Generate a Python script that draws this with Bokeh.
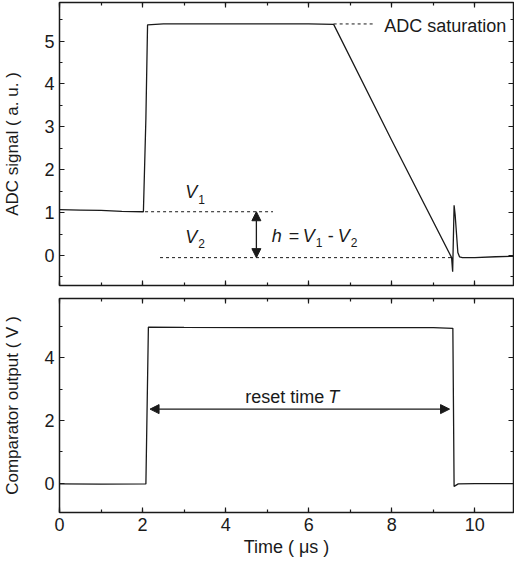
from bokeh.plotting import figure
from bokeh.layouts import column
from bokeh.models import LinearAxis, SingleIntervalTicker, Range1d, Arrow, NormalHead
from bokeh.core.properties import value
from bokeh.embed import file_html
from bokeh.resources import INLINE

# ---- data ----
adc_time = [0.0, 0.5, 1.0, 1.5, 2.02, 2.08, 2.12, 2.5, 4.0, 6.0, 6.6, 8.0, 9.44,
            9.465, 9.50, 9.525, 9.59, 9.63, 9.7, 10.0, 10.5, 10.93]
adc_signal = [1.07, 1.06, 1.05, 1.03, 1.02, 3.2, 5.38, 5.40, 5.40, 5.40, 5.39, 2.68, -0.05,
              -0.38, 1.17, 0.95, 0.07, -0.03, -0.05, -0.05, -0.03, -0.02]

comp_time = [0.0, 1.0, 2.08, 2.14, 3.0, 6.0, 9.0, 9.47, 9.50, 9.6, 10.0, 10.93]
comp_output = [-0.02, -0.03, -0.02, 4.97, 4.96, 4.95, 4.95, 4.93, -0.10, -0.02, -0.01, -0.01]

adc_saturation = 5.40
v1_level = 1.02
v2_level = -0.05
reset_start = 2.14
reset_end = 9.47

FONT = value("Liberation Sans")
INK = "#1a1a1a"
X_END = 10.93


def add_axes(p, xtick, ytick, xlabel=None, ylabel=None, show_x=True):
    def ax(ticker, labels, title=None):
        a = LinearAxis(ticker=ticker)
        a.axis_line_color = None
        a.major_tick_in = 5
        a.major_tick_out = 0
        a.minor_tick_in = 3
        a.minor_tick_out = 0
        a.major_tick_line_color = INK
        a.minor_tick_line_color = INK
        a.major_tick_line_width = 1.2
        a.minor_tick_line_width = 1.2
        if labels:
            a.major_label_text_font = "Liberation Sans"
            a.major_label_text_font_size = "18px"
            a.major_label_text_color = INK
        else:
            a.major_label_text_font_size = "1px"
            a.major_label_text_color = None
            a.major_label_standoff = 0
        if title:
            a.axis_label = title
            a.axis_label_text_font = "Liberation Sans"
            a.axis_label_text_font_style = "normal"
            a.axis_label_text_color = INK
        return a

    bx = ax(xtick, show_x, xlabel)
    if show_x:
        bx.major_label_standoff = 5
        bx.axis_label_text_font_size = "18px"
        bx.axis_label_standoff = 3
    p.add_layout(bx, "below")
    p.add_layout(ax(xtick, False), "above")
    ly = ax(ytick, True, ylabel)
    ly.major_label_standoff = 5
    ly.axis_label_text_font_size = "17px"
    ly.axis_label_standoff = 19
    p.add_layout(ly, "left")
    p.add_layout(ax(ytick, False), "right")


def base_fig(h, yr, top, bottom):
    p = figure(width=514, height=h, x_range=Range1d(0, X_END), y_range=Range1d(*yr),
               output_backend="svg", toolbar_location=None, x_axis_type=None, y_axis_type=None,
               min_border_left=57, min_border_right=1, min_border_top=top, min_border_bottom=bottom)
    p.outline_line_color = INK
    p.outline_line_width = 1.5
    p.background_fill_color = "white"
    p.border_fill_color = "white"
    return p


# ---- top panel ----
p1 = base_fig(291, (-0.7, 5.9), 2, 6)
add_axes(p1, SingleIntervalTicker(interval=2, num_minor_ticks=2),
         SingleIntervalTicker(interval=1, num_minor_ticks=2),
         ylabel="ADC signal ( a. u. )", show_x=False)

p1.line(adc_time, adc_signal, line_color=INK, line_width=1.3)

dash = dict(line_color=INK, line_width=1, line_dash="3 3")
p1.line([6.6, 7.6], [adc_saturation, adc_saturation], **dash)
p1.line([2.06, 5.14], [v1_level, v1_level], **dash)
p1.line([2.42, 9.43], [v2_level, v2_level], **dash)

p1.add_layout(Arrow(x_start=4.74, y_start=v1_level, x_end=4.74, y_end=v2_level,
                    line_color=INK, line_width=1.3,
                    start=NormalHead(size=9, fill_color=INK, line_color=INK),
                    end=NormalHead(size=9, fill_color=INK, line_color=INK)))

p1.text(x=[7.82], y=[5.36], text=["ADC saturation"], text_font=FONT, text_font_size="18px",
        text_baseline="middle", text_align="left", text_color=INK)

italic = dict(text_font=FONT, text_font_style="italic", text_font_size="18px",
              text_baseline="middle", text_align="left", text_color=INK)
normal = dict(text_font=FONT, text_font_size="18px", text_baseline="middle",
              text_align="left", text_color=INK)
sub = dict(text_font=FONT, text_font_size="12px", text_baseline="middle",
           text_align="left", text_color=INK)

# V1, V2 labels
p1.text(x=[3.03], y=[1.47], text=["V"], **italic)
p1.text(x=[3.03], y=[1.47], text=["1"], x_offset=13, y_offset=7, **sub)
p1.text(x=[3.03], y=[0.44], text=["V"], **italic)
p1.text(x=[3.03], y=[0.44], text=["2"], x_offset=13, y_offset=7, **sub)

# h = V1 - V2
hx, hy = 5.11, 0.46
p1.text(x=[hx], y=[hy], text=["h"], **italic)
p1.text(x=[hx], y=[hy], text=["="], x_offset=17, **normal)
p1.text(x=[hx], y=[hy], text=["V"], x_offset=31, **italic)
p1.text(x=[hx], y=[hy], text=["1"], x_offset=44, y_offset=7, **sub)
p1.text(x=[hx], y=[hy], text=["-"], x_offset=56, **normal)
p1.text(x=[hx], y=[hy], text=["V"], x_offset=66, **italic)
p1.text(x=[hx], y=[hy], text=["2"], x_offset=79, y_offset=7, **sub)

# ---- bottom panel ----
p2 = base_fig(268, (-0.93, 5.88), 7, 47)
add_axes(p2, SingleIntervalTicker(interval=2, num_minor_ticks=2),
         SingleIntervalTicker(interval=2, num_minor_ticks=2),
         xlabel="Time ( \u03bcs )", ylabel="Comparator output ( V )", show_x=True)

p2.line(comp_time, comp_output, line_color=INK, line_width=1.3)

p2.add_layout(Arrow(x_start=reset_start + 0.04, y_start=2.36, x_end=reset_end - 0.08, y_end=2.36,
                    line_color=INK, line_width=1.3,
                    start=NormalHead(size=9, fill_color=INK, line_color=INK),
                    end=NormalHead(size=9, fill_color=INK, line_color=INK)))
p2.text(x=[4.47], y=[2.73], text=["reset time"], **normal)
p2.text(x=[4.47], y=[2.73], text=["T"], x_offset=83, **italic)

layout = column(p1, p2, spacing=0)
open("out.html", "w").write(file_html(layout, INLINE))
